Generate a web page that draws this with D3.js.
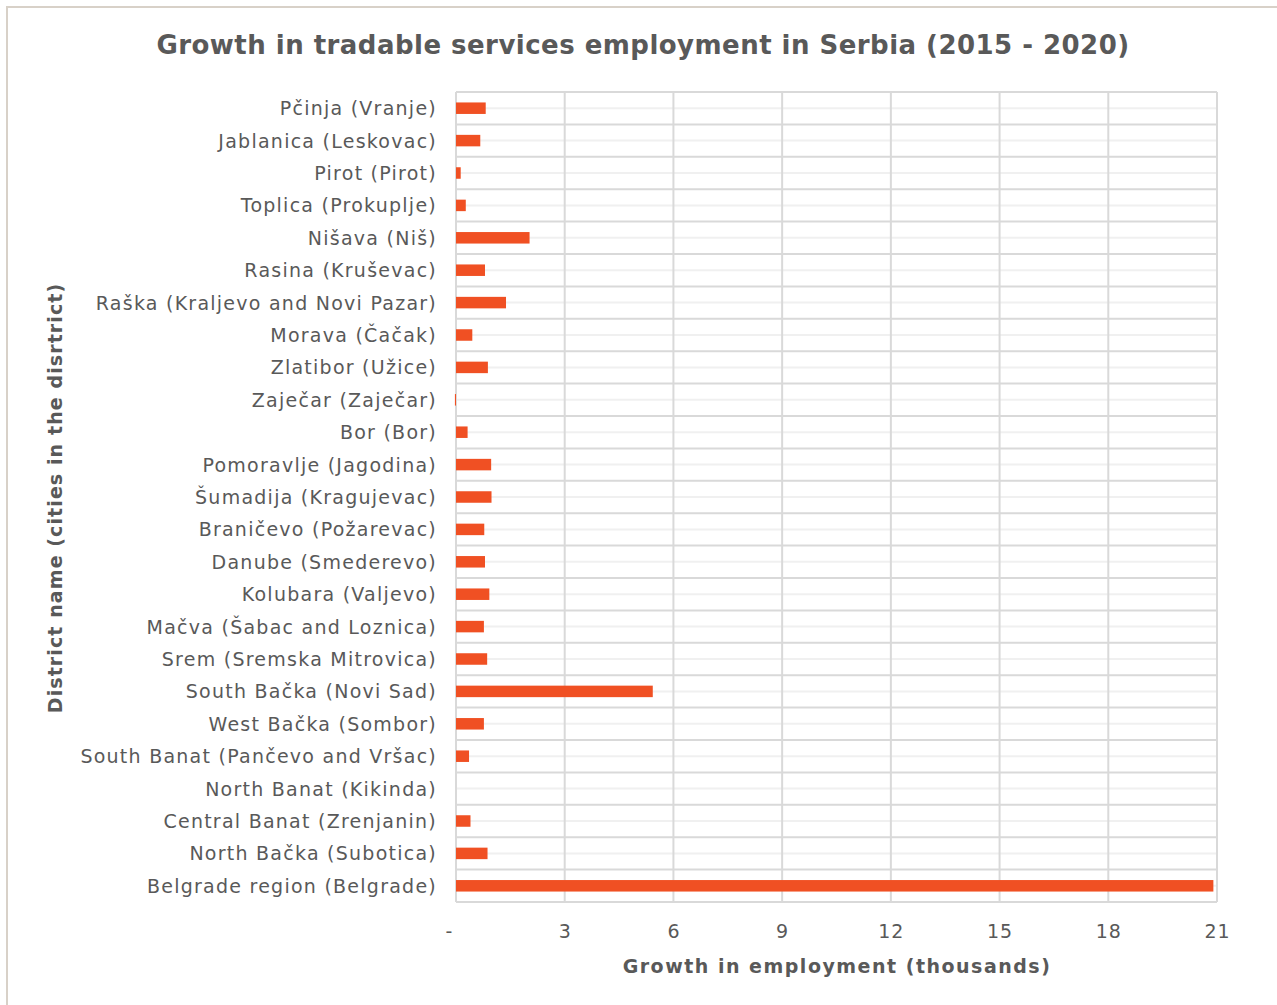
<!DOCTYPE html>
<html>
<head>
<meta charset="utf-8">
<script src="https://cdn.jsdelivr.net/npm/d3@7"></script>
<style>
  html, body { margin: 0; padding: 0; background: #ffffff; }
  svg { display: block; }
  text { font-family: "DejaVu Sans", Verdana, sans-serif; fill: #595959; }
</style>
</head>
<body>
<svg id="chart" width="1277" height="1005"></svg>
<script>
// Districts, top to bottom as listed on the chart
const districts = [
  "Pčinja (Vranje)",
  "Jablanica (Leskovac)",
  "Pirot (Pirot)",
  "Toplica (Prokuplje)",
  "Nišava (Niš)",
  "Rasina (Kruševac)",
  "Raška (Kraljevo and Novi Pazar)",
  "Morava (Čačak)",
  "Zlatibor (Užice)",
  "Zaječar (Zaječar)",
  "Bor (Bor)",
  "Pomoravlje (Jagodina)",
  "Šumadija (Kragujevac)",
  "Braničevo (Požarevac)",
  "Danube (Smederevo)",
  "Kolubara (Valjevo)",
  "Mačva (Šabac and Loznica)",
  "Srem (Sremska Mitrovica)",
  "South Bačka (Novi Sad)",
  "West Bačka (Sombor)",
  "South Banat (Pančevo and Vršac)",
  "North Banat (Kikinda)",
  "Central Banat (Zrenjanin)",
  "North Bačka (Subotica)",
  "Belgrade region (Belgrade)"
];

// Growth in tradable services employment, thousands (2015 - 2020)
const growth = [
  0.82, 0.67, 0.13, 0.27, 2.03,
  0.80, 1.38, 0.45, 0.88, -0.03,
  0.32, 0.97, 0.98, 0.78, 0.80,
  0.92, 0.77, 0.86, 5.43, 0.77,
  0.36, 0.00, 0.40, 0.87, 20.90
];

const xTicks = [0, 3, 6, 9, 12, 15, 18, 21];
const xTickLabels = ["-", "3", "6", "9", "12", "15", "18", "21"];

const rows = districts.map((name, i) => ({ name, value: growth[i] }));

const svg = d3.select("#chart");
const plot = { left: 456, right: 1217, top: 92, bottom: 902 };

// Outer frame
svg.append("rect")
  .attr("x", 7).attr("y", 7)
  .attr("width", 1300).attr("height", 1030)
  .attr("fill", "none")
  .attr("stroke", "#d8d1c8")
  .attr("stroke-width", 2);

const x = d3.scaleLinear().domain([0, 21]).range([plot.left, plot.right]);
const y = d3.scaleBand().domain(districts).range([plot.top, plot.bottom]).paddingInner(0).paddingOuter(0);
const barH = 11.5;

// Light centre lines through each category
svg.append("g")
  .selectAll("line")
  .data(districts)
  .join("line")
  .attr("x1", plot.left).attr("x2", plot.right)
  .attr("y1", d => y(d) + y.bandwidth() / 2)
  .attr("y2", d => y(d) + y.bandwidth() / 2)
  .attr("stroke", "#f0f0f0")
  .attr("stroke-width", 2);

// Category boundary lines
const bounds = districts.map(d => y(d)).concat([plot.bottom]);
svg.append("g")
  .selectAll("line")
  .data(bounds)
  .join("line")
  .attr("x1", plot.left).attr("x2", plot.right)
  .attr("y1", d => d).attr("y2", d => d)
  .attr("stroke", "#d9d9d9")
  .attr("stroke-width", 2);

// Vertical gridlines
svg.append("g")
  .selectAll("line")
  .data(xTicks)
  .join("line")
  .attr("x1", d => x(d)).attr("x2", d => x(d))
  .attr("y1", plot.top).attr("y2", plot.bottom)
  .attr("stroke", "#d9d9d9")
  .attr("stroke-width", 2);

// Bars
svg.append("g")
  .selectAll("rect")
  .data(rows)
  .join("rect")
  .attr("x", d => x(Math.min(0, d.value)))
  .attr("width", d => Math.abs(x(d.value) - x(0)))
  .attr("y", d => y(d.name) + (y.bandwidth() - barH) / 2)
  .attr("height", barH)
  .attr("fill", "#f05023");

// Category labels
const yAxis = d3.axisLeft(y).tickSize(0).tickPadding(19);
const yg = svg.append("g").attr("transform", `translate(${plot.left},1)`).call(yAxis);
yg.select(".domain").remove();
yg.selectAll("text")
  .style("font-family", '"DejaVu Sans", Verdana, sans-serif')
  .style("font-size", "19px")
  .style("letter-spacing", "1.25px")
  .attr("fill", "#595959");

// Value axis labels
const xAxis = d3.axisBottom(x).tickValues(xTicks)
  .tickFormat((d, i) => xTickLabels[i]).tickSize(0).tickPadding(23);
const xg = svg.append("g").attr("transform", `translate(0,${plot.bottom})`).call(xAxis);
xg.select(".domain").remove();
xg.selectAll("text")
  .style("font-family", '"DejaVu Sans", Verdana, sans-serif')
  .style("font-size", "19px")
  .style("letter-spacing", "1px")
  .attr("fill", "#595959");
xg.selectAll(".tick").filter(d => d === 0).select("text").attr("dx", -7);

// Title
svg.append("text")
  .attr("x", 643).attr("y", 54)
  .attr("text-anchor", "middle")
  .style("font-size", "26px")
  .style("font-weight", "bold")
  .style("letter-spacing", "0.47px")
  .text("Growth in tradable services employment in Serbia (2015 - 2020)");

// Axis titles
svg.append("text")
  .attr("x", 837).attr("y", 973)
  .attr("text-anchor", "middle")
  .style("font-size", "19px")
  .style("font-weight", "bold")
  .style("letter-spacing", "1.5px")
  .text("Growth in employment (thousands)");

svg.append("text")
  .attr("transform", "translate(62,498) rotate(-90)")
  .attr("text-anchor", "middle")
  .style("font-size", "19px")
  .style("font-weight", "bold")
  .style("letter-spacing", "1.1px")
  .text("District name (cities in the disrtrict)");
</script>
</body>
</html>
